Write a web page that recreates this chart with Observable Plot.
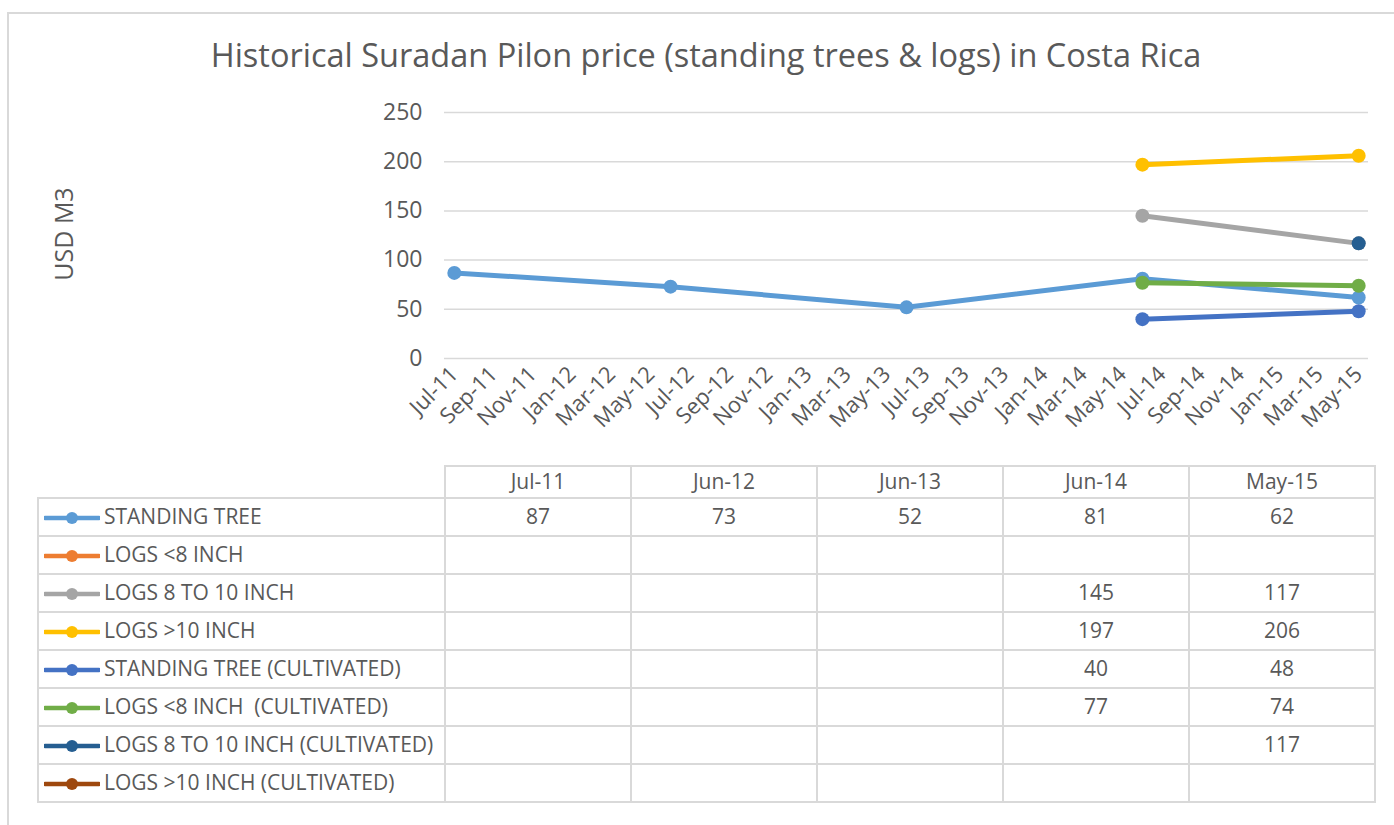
<!DOCTYPE html>
<html>
<head>
<meta charset="utf-8">
<script src="https://cdn.jsdelivr.net/npm/d3@7"></script>
<script src="https://cdn.jsdelivr.net/npm/@observablehq/plot@0.6"></script>
<style>
  body { margin: 0; background: #fff; font-family: "Open Sans", sans-serif; color: #595959; }
  #wrap { position: relative; width: 1394px; height: 825px; overflow: hidden; }
  #frame { position: absolute; left: 7px; top: 12px; width: 1420px; height: 860px;
           border-left: 2px solid #d9d9d9; border-top: 2px solid #d9d9d9; }
  #title { position: absolute; left: 0; width: 1412px; top: 35px; text-align: center;
           font-size: 32.5px; line-height: 1.2; white-space: nowrap; }
  #chart { position: absolute; left: 0; top: 0; }
  #ylabel { position: absolute; left: 63px; top: 234px; transform: translate(-50%, -50%) rotate(-90deg);
            font-size: 25px; white-space: nowrap; line-height: 1; }
  table { position: absolute; left: 37px; top: 465px; border-collapse: collapse; table-layout: fixed;
          font-size: 21px; color: #595959; }
  td { border: 2px solid #d9d9d9; padding: 0; text-align: center; vertical-align: middle;
       white-space: pre; height: 36px; line-height: 1.1; }
  tr.head td { height: 30px; }
  td.blank { border-top: none; border-left: none; }
  td.name { text-align: left; padding-left: 5px; }
  td.name svg { vertical-align: middle; margin-right: 4px; position: relative; top: -1px; }
</style>
</head>
<body>
<div id="wrap">
  <div id="frame"></div>
  <div id="chart"></div>
  <div id="title">Historical Suradan Pilon price (standing trees &amp; logs) in Costa Rica</div>
  <div id="ylabel">USD M3</div>
  <table id="tbl"></table>
</div>
<script>
// ---- data ----
const dates = ["Jul-11", "Jun-12", "Jun-13", "Jun-14", "May-15"];
const seriesNames = [
  "STANDING TREE",
  "LOGS <8 INCH",
  "LOGS 8 TO 10 INCH",
  "LOGS >10 INCH",
  "STANDING TREE (CULTIVATED)",
  "LOGS <8 INCH  (CULTIVATED)",
  "LOGS 8 TO 10 INCH (CULTIVATED)",
  "LOGS >10 INCH (CULTIVATED)"
];
const standingTree     = [87, 73, 52, 81, 62];
const logsLt8          = [null, null, null, null, null];
const logs8to10        = [null, null, null, 145, 117];
const logsGt10         = [null, null, null, 197, 206];
const standingTreeCult = [null, null, null, 40, 48];
const logsLt8Cult      = [null, null, null, 77, 74];
const logs8to10Cult    = [null, null, null, null, 117];
const logsGt10Cult     = [null, null, null, null, null];
const seriesColors = ["#5B9BD5", "#ED7D31", "#A5A5A5", "#FFC000", "#4472C4", "#70AD47", "#255E91", "#9E480E"];
const xTickLabels = ["Jul-11","Sep-11","Nov-11","Jan-12","Mar-12","May-12","Jul-12","Sep-12","Nov-12",
  "Jan-13","Mar-13","May-13","Jul-13","Sep-13","Nov-13","Jan-14","Mar-14","May-14","Jul-14","Sep-14",
  "Nov-14","Jan-15","Mar-15","May-15"];
const yTicks = [0, 50, 100, 150, 200, 250];

const seriesValues = [standingTree, logsLt8, logs8to10, logsGt10, standingTreeCult, logsLt8Cult, logs8to10Cult, logsGt10Cult];

// month index from "Mon-YY" (Excel date axis, base unit = month)
const parse = d3.utcParse("%b-%y");
const startLabel = xTickLabels[0];
const monthIndex = s => {
  const d = parse(s), d0 = parse(startLabel);
  return (d.getUTCFullYear() - d0.getUTCFullYear()) * 12 + d.getUTCMonth() - d0.getUTCMonth();
};
const tickPos = xTickLabels.map(monthIndex);
const labelByPos = new Map(xTickLabels.map(l => [monthIndex(l), l]));
const lastIdx = monthIndex(xTickLabels[xTickLabels.length - 1]);

const marks = [
  Plot.gridY(yTicks, {stroke: "#d9d9d9", strokeOpacity: 1, strokeWidth: 1.5}),
  Plot.axisY(yTicks, {tickSize: 0, tickPadding: 22, fontSize: 23, label: null}),
  Plot.axisX(tickPos, {tickSize: 0, tickPadding: 12, tickRotate: -45, fontSize: 22,
    tickFormat: d => labelByPos.get(d), label: null})
];
seriesValues.forEach((vals, i) => {
  const pts = dates.map((d, j) => ({x: monthIndex(d), y: vals[j]})).filter(p => p.y != null);
  if (!pts.length) return;
  marks.push(Plot.line(pts, {x: "x", y: "y", stroke: seriesColors[i], strokeWidth: 5, strokeLinecap: "round", strokeLinejoin: "round"}));
  marks.push(Plot.dot(pts, {x: "x", y: "y", r: 7, fill: seriesColors[i], stroke: "none"}));
});

const chart = Plot.plot({
  width: 1394,
  height: 460,
  marginLeft: 444,
  marginRight: 26,
  marginTop: 112,
  marginBottom: 102,
  x: {type: "linear", domain: [-0.5, lastIdx + 0.5]},
  y: {domain: [0, 250]},
  style: {fontFamily: "Open Sans, sans-serif", color: "#595959", background: "transparent", overflow: "visible"},
  marks
});
document.getElementById("chart").appendChild(chart);

// ---- data table ----
const tbl = d3.select("#tbl");
const cg = tbl.append("colgroup");
cg.append("col").style("width", "407px");
dates.forEach(() => cg.append("col").style("width", "186px"));
const head = tbl.append("tr").attr("class", "head");
head.append("td").attr("class", "blank");
dates.forEach(d => head.append("td").text(d));
seriesNames.forEach((name, i) => {
  const tr = tbl.append("tr");
  const c = seriesColors[i];
  tr.append("td").attr("class", "name")
    .html(`<svg width="56" height="14"><line x1="1" x2="55" y1="7" y2="7" stroke="${c}" stroke-width="4.5" stroke-linecap="round"/><circle cx="28" cy="7" r="6" fill="${c}"/></svg>`)
    .append("span").text(name);
  seriesValues[i].forEach(v => tr.append("td").text(v == null ? "" : v));
});
</script>
</body>
</html>
